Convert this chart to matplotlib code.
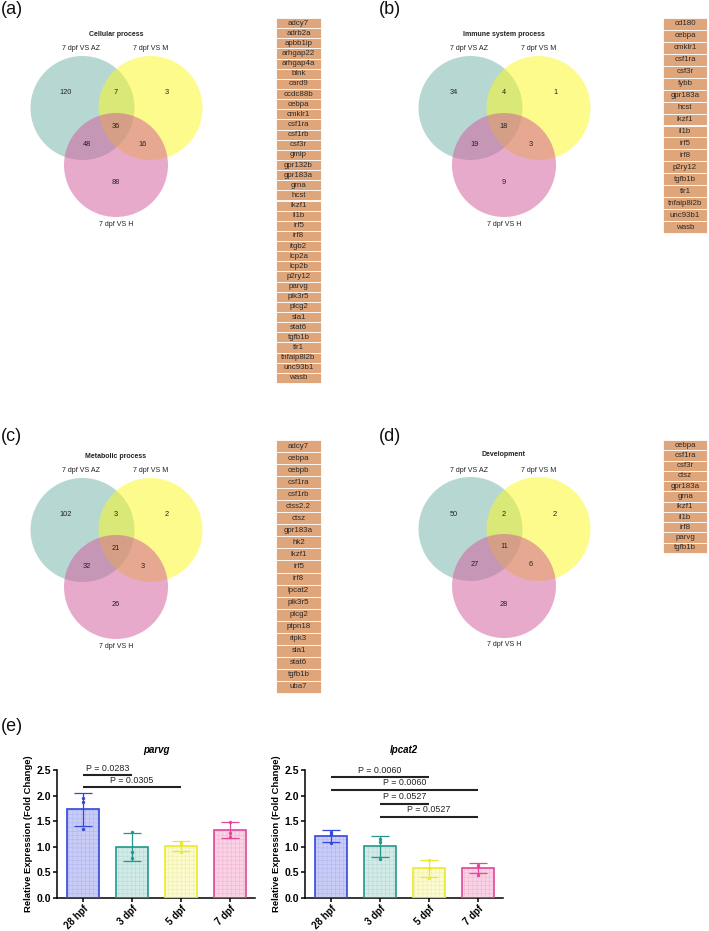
import matplotlib
matplotlib.use('Agg')
import matplotlib.pyplot as plt
from matplotlib.patches import Circle, Rectangle
import numpy as np

plt.rcParams['font.family'] = ['Liberation Sans', 'DejaVu Sans']
plt.rcParams['hatch.linewidth'] = 0.4

# ---------------- Venn data ----------------
set_labels = ['7 dpf VS AZ', '7 dpf VS M', '7 dpf VS H']
venn_titles = ['Cellular process', 'Immune system process', 'Metabolic process', 'Development']
# region order: AZ only, AZ&M, M only, all three, AZ&H, M&H, H only
venn_a = [120, 7, 3, 36, 48, 16, 88]
venn_b = [34, 4, 1, 18, 19, 3, 9]
venn_c = [102, 3, 2, 21, 32, 3, 26]
venn_d = [50, 2, 2, 11, 27, 6, 28]

genes_a = ['adcy7', 'adrb2a', 'apbb1ip', 'arhgap22', 'arhgap4a', 'blnk', 'card9', 'ccdc88b',
           'cebpa', 'cmklr1', 'csf1ra', 'csf1rb', 'csf3r', 'gmip', 'gpr132b', 'gpr183a', 'grna',
           'hcst', 'ikzf1', 'il1b', 'irf5', 'irf8', 'itgb2', 'lcp2a', 'lcp2b', 'p2ry12', 'parvg',
           'pik3r5', 'plcg2', 'sla1', 'stat6', 'tgfb1b', 'tlr1', 'tnfaip8l2b', 'unc93b1', 'wasb']
genes_b = ['cd180', 'cebpa', 'cmklr1', 'csf1ra', 'csf3r', 'fybb', 'gpr183a', 'hcst', 'ikzf1',
           'il1b', 'irf5', 'irf8', 'p2ry12', 'tgfb1b', 'tlr1', 'tnfaip8l2b', 'unc93b1', 'wasb']
genes_c = ['adcy7', 'cebpa', 'cebpb', 'csf1ra', 'csf1rb', 'ctss2.2', 'ctsz', 'gpr183a', 'hk2',
           'ikzf1', 'irf5', 'irf8', 'lpcat2', 'pik3r5', 'plcg2', 'ptpn18', 'ripk3', 'sla1',
           'stat6', 'tgfb1b', 'uba7']
genes_d = ['cebpa', 'csf1ra', 'csf3r', 'ctsz', 'gpr183a', 'grna', 'ikzf1', 'il1b', 'irf8',
           'parvg', 'tgfb1b']

# ---------------- qPCR data ----------------
groups = ['28 hpf', '3 dpf', '5 dpf', '7 dpf']
parvg_mean = [1.73, 1.00, 1.01, 1.33]
parvg_sd = [0.33, 0.27, 0.10, 0.15]
parvg_pts = [[1.96, 1.88, 1.34], [1.29, 0.90, 0.79], [1.07, 1.05, 0.90], [1.48, 1.27, 1.20]]
parvg_sig = [(0, 1, 'P = 0.0283'), (0, 2, 'P = 0.0305')]
parvg_sig_y = [2.40, 2.16]

lpcat2_mean = [1.21, 1.01, 0.58, 0.58]
lpcat2_sd = [0.11, 0.21, 0.17, 0.10]
lpcat2_pts = [[1.29, 1.25, 1.08], [1.16, 1.10, 0.77], [0.75, 0.58, 0.40], [0.65, 0.60, 0.45]]
lpcat2_sig = [(0, 2, 'P = 0.0060'), (0, 3, 'P = 0.0060'), (1, 2, 'P = 0.0527'), (1, 3, 'P = 0.0527')]
lpcat2_sig_y = [2.36, 2.11, 1.84, 1.59]

edge_cols = ['#3347dc', '#22978c', '#eaea2a', '#e4469a']
fill_cols = ['#c9cdf6', '#d3ebe8', '#fbfbcf', '#f9d2e5']
hatch_cols = ['#b0b6f0', '#b8dad6', '#eeeeaa', '#efb8d2']

W, H = 709, 931
fig = plt.figure(figsize=(W / 100, H / 100), dpi=100)
bg = fig.add_axes([0, 0, 1, 1])
bg.set_xlim(0, W)
bg.set_ylim(H, 0)
bg.axis('off')

circ_cols = ['#71b1a9', '#fbf91a', '#d35799']


def draw_venn(cx, ty, title, counts):
    r = 52
    centers = [(cx - 33.5, ty + 74), (cx + 34.5, ty + 74), (cx, ty + 131)]
    for (x, y), c in zip(centers, circ_cols):
        bg.add_patch(Circle((x, y), r, facecolor=c, edgecolor='none', alpha=0.5))
    bg.text(cx, ty, title, ha='center', va='center', fontsize=5.0, fontweight='bold', color='#222222')
    bg.text(cx - 35, ty + 15, set_labels[0], ha='center', va='center', fontsize=5.1, color='#222222')
    bg.text(cx + 35, ty + 15, set_labels[1], ha='center', va='center', fontsize=5.1, color='#222222')
    bg.text(cx, ty + 190, set_labels[2], ha='center', va='center', fontsize=5.1, color='#222222')
    pos = [(cx - 50, ty + 59), (cx, ty + 59), (cx + 51, ty + 59), (cx, ty + 92),
           (cx - 29, ty + 110), (cx + 27, ty + 110), (cx, ty + 149)]
    for (x, y), v in zip(pos, counts):
        bg.text(x, y, str(v), ha='center', va='center', fontsize=5.3, color='#222222')


def draw_genes(x0, x1, y0, y1, genes):
    n = len(genes)
    h = (y1 - y0) / n
    for i, g in enumerate(genes):
        bg.add_patch(Rectangle((x0, y0 + i * h), x1 - x0, h, facecolor='#e0a67b',
                               edgecolor='white', linewidth=0.6))
        bg.text((x0 + x1) / 2, y0 + (i + 0.5) * h, g, ha='center', va='center',
                fontsize=5.7, color='#2a2a2a')


draw_venn(116, 34, venn_titles[0], venn_a)
draw_venn(504, 34, venn_titles[1], venn_b)
draw_venn(116, 456, venn_titles[2], venn_c)
draw_venn(504, 455, venn_titles[3], venn_d)

draw_genes(276, 321, 18, 383, genes_a)
draw_genes(663, 707, 18, 233, genes_b)
draw_genes(276, 321, 440, 693, genes_c)
draw_genes(663, 707, 440, 553, genes_d)

for lab, x, y in [('(a)', 1, 1), ('(b)', 379, 1), ('(c)', 1, 428), ('(d)', 379, 428), ('(e)', 1, 718)]:
    bg.text(x, y, lab, ha='left', va='top', fontsize=13, color='#111111')


def bar_panel(left_px, title, means, sds, pts, sigs, sig_y):
    ax = fig.add_axes([left_px / W, (H - 898) / H, 198 / W, 128 / H])
    x = np.arange(len(groups))
    for i in range(len(groups)):
        ax.bar(x[i], means[i], width=0.67, color=fill_cols[i], edgecolor='none', zorder=1)
        ax.bar(x[i], means[i], width=0.67, color='none', edgecolor=hatch_cols[i],
               hatch='++++', linewidth=0, zorder=2)
        ax.bar(x[i], means[i], width=0.67, color='none', edgecolor=edge_cols[i],
               linewidth=1.2, zorder=3)
        ax.errorbar(x[i], means[i], yerr=sds[i], color=edge_cols[i], capsize=6.5,
                    elinewidth=0.9, capthick=0.9, zorder=4)
        ax.scatter([x[i]] * len(pts[i]), pts[i], s=6, color=edge_cols[i], zorder=5, linewidths=0)
    for (a, b, t), yv in zip(sigs, sig_y):
        ax.plot([x[a], x[b]], [yv, yv], color='#222222', lw=1.5, clip_on=False, solid_capstyle='butt')
        ax.text((x[a] + x[b]) / 2, yv + 0.05, t, ha='center', va='bottom', fontsize=6.4,
                color='#222222', clip_on=False)
    ax.set_xlim(-0.53, 3.51)
    ax.set_ylim(0, 2.5)
    ax.set_yticks([0, 0.5, 1.0, 1.5, 2.0, 2.5])
    ax.set_yticklabels(['0.0', '0.5', '1.0', '1.5', '2.0', '2.5'], fontweight='bold', fontsize=7.5)
    ax.set_xticks(x)
    ax.set_xticklabels(groups, rotation=45, ha='right', rotation_mode='anchor',
                       fontweight='bold', fontsize=7)
    for s in ['top', 'right']:
        ax.spines[s].set_visible(False)
    for s in ['left', 'bottom']:
        ax.spines[s].set_linewidth(1.1)
    ax.tick_params(width=1.1, length=3, pad=1.5)
    ax.tick_params(axis='x', pad=1)
    ax.set_ylabel('Relative Expression (Fold Change)', fontweight='bold', fontsize=6.8, labelpad=2)
    ax.text(0.5, 1.16, title, transform=ax.transAxes, ha='center', va='center',
            fontsize=7, fontweight='bold', style='italic')
    return ax


bar_panel(57, 'parvg', parvg_mean, parvg_sd, parvg_pts, parvg_sig, parvg_sig_y)
bar_panel(305, 'lpcat2', lpcat2_mean, lpcat2_sd, lpcat2_pts, lpcat2_sig, lpcat2_sig_y)

fig.savefig('out.png', dpi=100)
